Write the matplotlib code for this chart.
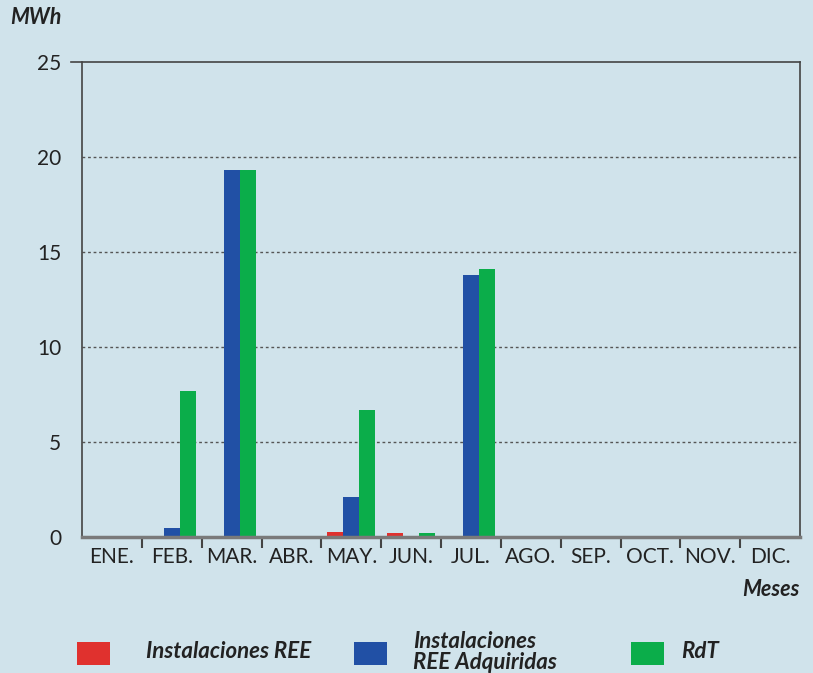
import matplotlib
matplotlib.use("Agg")
import matplotlib.pyplot as plt
import numpy as np
from matplotlib.patches import Rectangle

plt.rcParams['font.family'] = ['Lato', 'DejaVu Sans']

months = ["ENE.", "FEB.", "MAR.", "ABR.", "MAY.", "JUN.", "JUL.", "AGO.", "SEP.", "OCT.", "NOV.", "DIC."]
ree = [0, 0, 0, 0, 0.25, 0.2, 0, 0, 0, 0, 0, 0]
ree_adq = [0, 0.5, 19.3, 0, 2.1, 0, 13.8, 0, 0, 0, 0, 0]
rdt = [0, 7.7, 19.3, 0, 6.7, 0.2, 14.1, 0, 0, 0, 0, 0]
yticks = [0, 5, 10, 15, 20, 25]

bg = "#d0e3eb"
c_red = "#e0312e"
c_blue = "#2150a5"
c_green = "#0bad4a"

fig = plt.figure(figsize=(8.13, 6.73), dpi=100, facecolor=bg)
ax = fig.add_axes([82 / 813, 1 - 537 / 673, 718 / 813, 475 / 673])
ax.set_facecolor(bg)

x = np.arange(len(months))
w = 0.268
ax.bar(x - w, ree, w, color=c_red, zorder=3)
ax.bar(x, ree_adq, w, color=c_blue, zorder=3)
ax.bar(x + w, rdt, w, color=c_green, zorder=3)

ax.set_xlim(-0.5, len(months) - 0.5)
ax.set_ylim(0, 25)

for v in yticks[1:-1]:
    ax.axhline(v, color="#555555", lw=1, ls=(0, (2, 2)), zorder=1)

# top line, reaching a little past the left axis
ax.plot([-0.68, 11.5], [25, 25], color="#444444", lw=1.2, clip_on=False, zorder=4)

ax.spines["top"].set_visible(False)
ax.spines["left"].set_color("#444444")
ax.spines["left"].set_linewidth(1.2)
ax.spines["right"].set_color("#444444")
ax.spines["right"].set_linewidth(1.2)
ax.spines["bottom"].set_color("#7a7a7a")
ax.spines["bottom"].set_linewidth(2.5)
ax.spines["bottom"].set_zorder(5)

ax.set_yticks(yticks)
ax.set_yticklabels([str(v) for v in yticks], fontsize=15, color="#222222")
ax.tick_params(axis="y", length=0, pad=15)

ax.set_xticks(x)
ax.set_xticklabels(months, fontsize=15, color="#222222")
ax.tick_params(axis="x", which="major", length=0, pad=7)
ax.set_xticks(np.arange(0.5, len(months) - 1, 1), minor=True)
ax.tick_params(axis="x", which="minor", length=8, width=1.5, color="#444444", direction="out")

fig.text(10 / 813, 1 - 18 / 673, "MWh", fontsize=15.5, fontweight="bold", fontstyle="italic",
         color="#222222", va="center", ha="left")
fig.text(800 / 813, 1 - 590 / 673, "Meses", fontsize=15.5, fontweight="bold", fontstyle="italic",
         color="#222222", va="center", ha="right")

# legend
items = [(c_red, "Instalaciones REE", 77, 146),
         (c_blue, "Instalaciones\nREE Adquiridas", 354, 413),
         (c_green, "RdT", 631, 681)]
for col, label, px, tx in items:
    fig.patches.append(Rectangle((px / 813, 1 - 665 / 673), 33 / 813, 23 / 673,
                                 transform=fig.transFigure, facecolor=col, edgecolor="none"))
    fig.text(tx / 813, 1 - 652 / 673, label, fontsize=16, fontweight="bold", fontstyle="italic",
             color="#222222", va="center", ha="left", linespacing=0.95)

fig.savefig("out.png", dpi=100, facecolor=bg)
